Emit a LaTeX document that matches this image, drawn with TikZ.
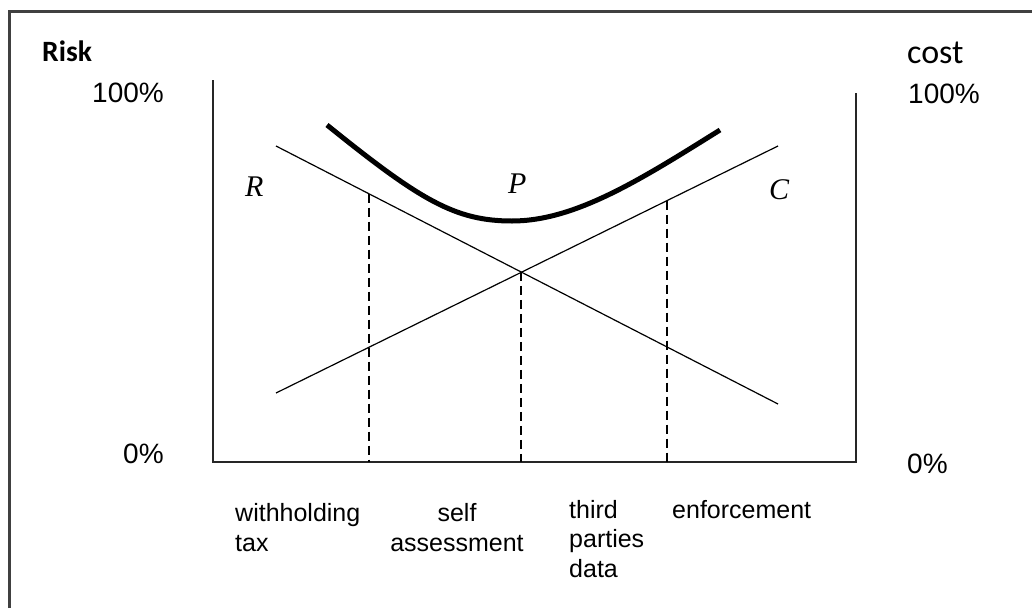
\documentclass[tikz,border=0pt]{standalone}
\usepackage{fontspec}
\setmainfont{Liberation Sans}
\newfontfamily\calibrifont{Carlito}
\newfontfamily\seriffont{Liberation Serif}
\usetikzlibrary{calc}

\tikzset{
  axisline/.style={line width=2pt, black!85},
  schedline/.style={line width=1.2pt},
  guideline/.style={dash pattern=on 9pt off 5pt, line width=1.4pt},
  pct/.style={font=\fontsize{28}{32}\selectfont, anchor=base west, inner sep=0pt},
  cat/.style={font=\fontsize{25}{29.5}\selectfont, anchor=base west, inner sep=0pt, align=left},
  curvelabel/.style={font=\seriffont\itshape\fontsize{30}{34}\selectfont, anchor=base west, inner sep=0pt},
}

\begin{document}
\begin{tikzpicture}[x=1pt, y=-1pt]
  \useasboundingbox (0,0) rectangle (1032,608);

  % Frame (left and top edge only)
  \draw[line width=3pt, black!75] (9,608) -- (9,11) -- (1032,11);

  % Axes
  \coordinate (o) at (213,462);
  \coordinate (ytop) at (213,80);
  \coordinate (xend) at (856,462);
  \coordinate (ctop) at (856,93);
  \draw[axisline] (ytop) -- (o) -- (xend) -- (ctop);

  % Risk and cost lines
  \coordinate (r0) at (276,146);
  \coordinate (r1) at (778,404);
  \coordinate (c0) at (276,393);
  \coordinate (c1) at (778,146);
  \draw[schedline] (r0) -- (r1);
  \draw[schedline] (c0) -- (c1);

  % Dashed separators
  \coordinate (s1) at ($(r0)!0.185!(r1)$);
  \coordinate (s2) at ($(r0)!0.488!(r1)$);
  \coordinate (s3) at ($(c0)!0.779!(c1)$);
  \draw[guideline] (s1) -- (s1 |- o);
  \draw[guideline] (s2) -- (s2 |- o);
  \draw[guideline] (s3) -- (s3 |- o);

  % Total curve P
  \coordinate (p0) at (327,125);
  \coordinate (pmin) at (512,221);
  \coordinate (p1) at (720,130);
  \draw[line width=5pt] (p0) .. controls (420,200) and (455,221) .. (pmin)
    .. controls (575,221) and (640,180) .. (p1);

  % Axis titles and percentages
  \node[font=\calibrifont\bfseries\fontsize{29.5}{33}\selectfont, anchor=base west, inner sep=0pt] (risk) at (42,61) {Risk};
  \node[font=\calibrifont\fontsize{34}{38}\selectfont, anchor=base west, inner sep=0pt] (cost) at (907,63) {cost};
  \node[pct] (rtop) at (92,102) {100\%};
  \node[pct] (rzero) at (123,463) {0\%};
  \node[pct] (ctoplbl) at (908,103) {100\%};
  \node[pct] (czero) at (907,473) {0\%};

  % Curve labels
  \node[curvelabel] (lblR) at (245,196) {R};
  \node[curvelabel] (lblP) at (508,193) {P};
  \node[curvelabel] (lblC) at (769,199) {C};

  % Category labels (base = last line)
  \node[cat] (wtax) at (235,551) {withholding\\tax};
  \node[cat, align=center, anchor=base] (self) at (457,551) {self\\assessment};
  \node[cat] (third) at (569,577) {third\\parties\\data};
  \node[cat] (enf) at (672,518) {enforcement};
\end{tikzpicture}
\end{document}
